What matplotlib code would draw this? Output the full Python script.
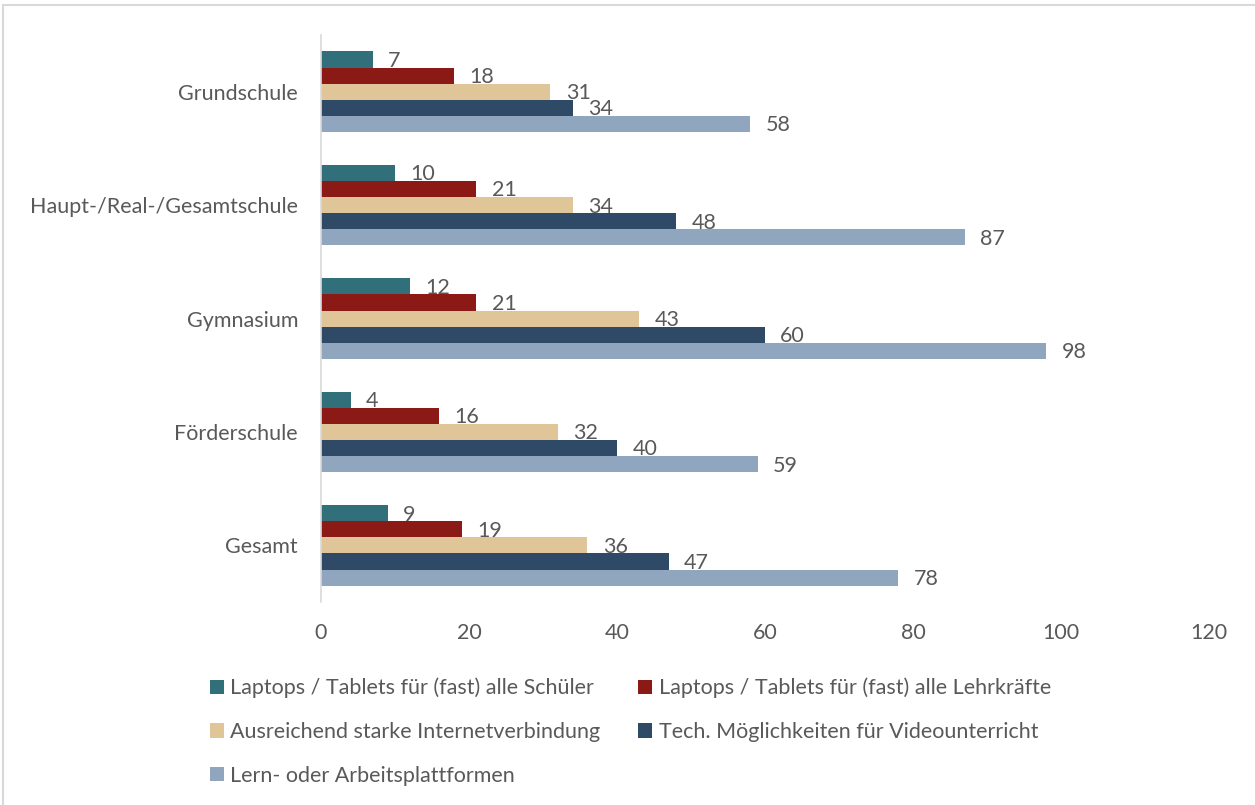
import matplotlib.pyplot as plt
import numpy as np
from matplotlib.patches import Rectangle

plt.rcParams['font.family'] = ['Lato', 'DejaVu Sans']

# Schulformen und Anteile (in %)
schulformen = ['Grundschule', 'Haupt-/Real-/Gesamtschule', 'Gymnasium', 'Förderschule', 'Gesamt']
serien = ['Laptops / Tablets für (fast) alle Schüler',
          'Laptops / Tablets für (fast) alle Lehrkräfte',
          'Ausreichend starke Internetverbindung',
          'Tech. Möglichkeiten für Videounterricht',
          'Lern- oder Arbeitsplattformen']
laptops_schueler = [7, 10, 12, 4, 9]
laptops_lehrer = [18, 21, 21, 16, 19]
internet = [31, 34, 43, 32, 36]
video = [34, 48, 60, 40, 47]
plattformen = [58, 87, 98, 59, 78]
werte = [laptops_schueler, laptops_lehrer, internet, video, plattformen]
farben = ['#31707A', '#8B1A17', '#DFC597', '#2E4A66', '#8FA6BE']

text_farbe = '#595959'
fs = 15.5

fig = plt.figure(figsize=(12.55, 8.05), dpi=100)
ax = fig.add_axes([0.2558, 0.252, 0.7075, 0.7045])

y = np.arange(len(schulformen))
h = 0.142
for i, (w, c, s) in enumerate(zip(werte, farben, serien)):
    bars = ax.barh(y + (i - 2) * h, w, height=h, color=c, label=s)
    for b, v in zip(bars, w):
        ax.annotate(str(v), (b.get_width(), b.get_y() + b.get_height() / 2),
                    xytext=(11, -1), textcoords='offset points',
                    ha='left', va='center', fontsize=fs, color=text_farbe)

ax.set_ylim(-0.5, len(schulformen) - 0.5)
ax.invert_yaxis()
ax.set_xlim(0, 120)
ax.set_xticks(range(0, 121, 20))
ax.set_yticks(y)
ax.set_yticklabels(schulformen)
ax.tick_params(length=0, labelsize=fs, colors=text_farbe)
ax.tick_params(axis='x', pad=15)
ax.tick_params(axis='y', pad=16.5)
for sp in ['top', 'right', 'bottom']:
    ax.spines[sp].set_visible(False)
ax.spines['left'].set_color('#D9D9D9')
ax.spines['left'].set_linewidth(1.2)

# Legende zeilenweise füllen (2 Spalten)
handles, labels = ax.get_legend_handles_labels()
order = [0, 2, 4, 1, 3]
leg = fig.legend([handles[k] for k in order], [labels[k] for k in order],
                 ncol=2, loc='upper left',
                 bbox_to_anchor=(0.167, 0.158), frameon=False,
                 fontsize=fs, handlelength=0.65, handleheight=0.65,
                 handletextpad=0.28, columnspacing=1.8, labelspacing=1.1,
                 borderpad=0, borderaxespad=0)
for t in leg.get_texts():
    t.set_color(text_farbe)

# Rahmen um das Diagramm
fig.patches.append(Rectangle((3 / 1255, -0.05), 1.1, 1 - 5 / 805 + 0.05,
                             transform=fig.transFigure, fill=False,
                             edgecolor='#D9D9D9', linewidth=1.5))

fig.savefig('out.png', dpi=100)
